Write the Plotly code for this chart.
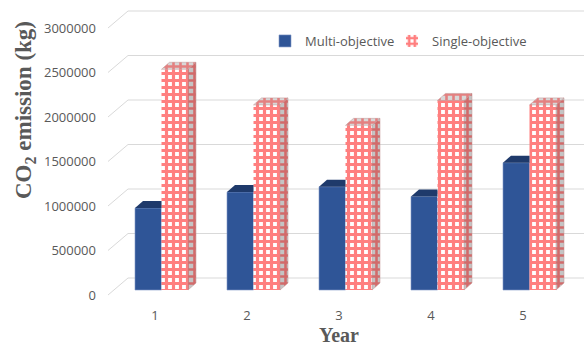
import plotly.graph_objects as go

# ---------------- data ----------------
years = [1, 2, 3, 4, 5]
year_labels = ["1", "2", "3", "4", "5"]
multi_objective = [920000, 1100000, 1160000, 1050000, 1430000]
single_objective = [2480000, 2080000, 1850000, 2130000, 2080000]
y_ticks = [0, 500000, 1000000, 1500000, 2000000, 2500000, 3000000]
y_tick_labels = [str(v) for v in y_ticks]
series_names = ["Multi-objective", "Single-objective"]

# ---------------- geometry (pixels -> data units) ----------------
W, H = 584, 347
ML, MR, MT, MB = 100, 0, 0, 47
PW = W - ML - MR
PH = H - MT - MB

PX_PER_CAT = 92.0      # pixels between categories
CAT1_PX = 155.0        # pixel x of category 1 label
PX_PER_VAL = 89e-6     # pixels per kg
ZERO_PY = 295.0        # pixel y of value 0 on front plane

x0 = 1 - (CAT1_PX - ML) / PX_PER_CAT
x1 = x0 + PW / PX_PER_CAT
y_top = (ZERO_PY - MT) / PX_PER_VAL
y_bot = -(MT + PH - ZERO_PY) / PX_PER_VAL


def dxu(px):
    return px / PX_PER_CAT


def dyu(px):
    return px / PX_PER_VAL


def x_at(px):
    return x0 + (px - ML) / PX_PER_CAT


GRID = "#D9D9D9"
TXT = "#595959"
BLUE = "#2F5597"
BLUE_TOP = "#1F3A6B"

bar_shift = dyu(5)          # bars sit slightly behind the front plane
bar_w = dxu(26.5)
blue_off = dxu(-20)
red_off = dxu(6.5)
depth_x = dxu(8)
depth_y = dyu(7)

red_pattern = dict(shape="+", fgcolor="#FF0000", bgcolor="#FFFFFF", size=7, solidity=0.7)
side_pattern = dict(shape="+", fgcolor="#E01010", bgcolor="#C4C4C4", size=7, solidity=0.6)
top_pattern = dict(shape="+", fgcolor="#F02828", bgcolor="#D8D8D8", size=7, solidity=0.6)

fig = go.Figure()

# gridlines in perspective (shapes below traces)
shapes = []
wall_dy = dyu(17)
for t in y_ticks:
    shapes.append(dict(type="line", xref="x", yref="y", layer="below",
                       x0=x_at(108), y0=t, x1=x_at(128), y1=t + wall_dy,
                       line=dict(color=GRID, width=1)))
    shapes.append(dict(type="line", xref="x", yref="y", layer="below",
                       x0=x_at(128), y0=t + wall_dy, x1=x1, y1=t + wall_dy,
                       line=dict(color=GRID, width=1)))

# front faces
fig.add_trace(go.Bar(
    name=series_names[0], x=years, y=multi_objective, base=[bar_shift] * len(years),
    offset=blue_off, width=bar_w,
    marker=dict(color=BLUE, line=dict(color="#7F97C8", width=0.6)),
    hoverinfo="skip", legend="legend"))
fig.add_trace(go.Bar(
    name=series_names[1], x=years, y=single_objective, base=[bar_shift] * len(years),
    offset=red_off, width=bar_w,
    marker=dict(color="#FFFFFF", pattern=red_pattern, line=dict(width=0)),
    hoverinfo="skip", legend="legend2"))

# top / side faces
for yr, mv, sv in zip(years, multi_objective, single_objective):
    L = yr + blue_off
    R = L + bar_w
    top = bar_shift + mv
    fig.add_trace(go.Scatter(
        x=[L, R, R, L + depth_x, L], y=[top, top, top + depth_y, top + depth_y, top],
        fill="toself", fillcolor=BLUE_TOP, mode="lines", line=dict(width=0),
        showlegend=False, hoverinfo="skip"))

    L = yr + red_off
    R = L + bar_w
    top = bar_shift + sv
    fig.add_trace(go.Scatter(
        x=[R, R + depth_x, R + depth_x, R, R],
        y=[bar_shift, bar_shift + depth_y, top + depth_y, top, bar_shift],
        fill="toself", fillcolor="#FFFFFF", fillpattern=side_pattern,
        mode="lines", line=dict(width=0.5, color="#C09090"),
        showlegend=False, hoverinfo="skip"))
    fig.add_trace(go.Scatter(
        x=[L, R, R + depth_x, L + depth_x, L],
        y=[top, top, top + depth_y, top + depth_y, top],
        fill="toself", fillcolor="#FFFFFF", fillpattern=top_pattern,
        mode="lines", line=dict(width=0.5, color="#C09090"),
        showlegend=False, hoverinfo="skip"))

legend_common = dict(orientation="h", xanchor="left", y=1 - 41 / PH, yanchor="middle",
                     font=dict(family="Open Sans", size=13, color=TXT),
                     bgcolor="rgba(0,0,0,0)")

fig.update_layout(
    width=W, height=H,
    margin=dict(l=ML, r=MR, t=MT, b=MB),
    paper_bgcolor="white", plot_bgcolor="white",
    barmode="overlay",
    showlegend=True,
    shapes=shapes,
    font=dict(family="Open Sans", size=13, color=TXT),
    legend=dict(x=(265 - ML) / PW, **legend_common),
    legend2=dict(x=(392 - ML) / PW, **legend_common),
    xaxis=dict(range=[x0, x1], tickvals=years, ticktext=year_labels,
               showgrid=False, zeroline=False, showline=False, ticks="",
               ticklabelstandoff=6, tickfont=dict(family="Open Sans", size=13, color=TXT)),
    yaxis=dict(range=[y_bot, y_top], tickvals=y_ticks, ticktext=y_tick_labels,
               showgrid=False, zeroline=False, showline=False, ticks="",
               ticklabelstandoff=3, tickfont=dict(family="Open Sans", size=13, color=TXT)),
    annotations=[
        dict(text="CO<sub>2</sub> emission (kg)", xref="paper", yref="paper",
             x=(25 - ML) / PW, y=1 - 110 / PH, xanchor="center", yanchor="middle",
             textangle=-90, showarrow=False,
             font=dict(family="Liberation Serif", size=23, color=TXT, weight="bold")),
        dict(text="Year", xref="paper", yref="paper",
             x=(339 - ML) / PW, y=1 - 335 / PH, xanchor="center", yanchor="middle",
             showarrow=False,
             font=dict(family="Liberation Serif", size=20, color=TXT, weight="bold")),
    ],
)

fig.write_html("out.html")
